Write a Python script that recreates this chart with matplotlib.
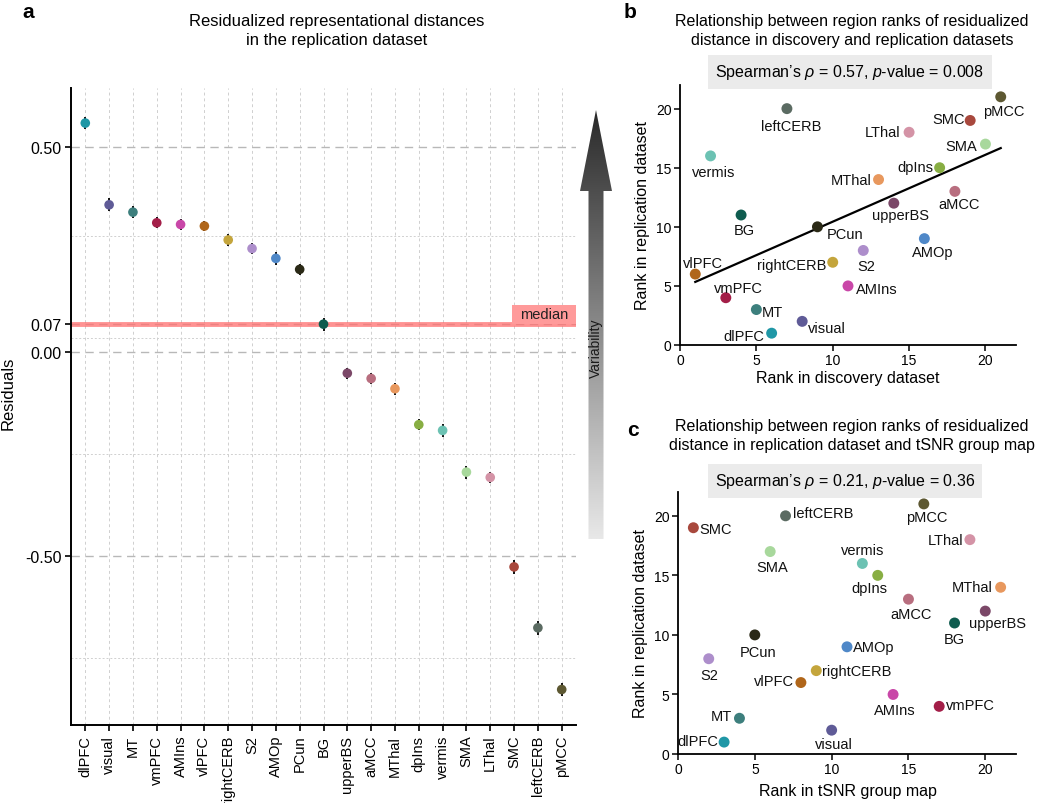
import numpy as np
import matplotlib
matplotlib.use('Agg')
import matplotlib.pyplot as plt
from matplotlib.patches import Polygon, Rectangle
from matplotlib.colors import LinearSegmentedColormap
import matplotlib.transforms as mtransforms

plt.rcParams['font.family'] = ['Liberation Sans', 'DejaVu Sans']
plt.rcParams['mathtext.fontset'] = 'custom'
plt.rcParams['mathtext.rm'] = 'Liberation Sans'
plt.rcParams['mathtext.it'] = 'Liberation Sans:italic'

# ---------------- data ----------------
regions = ['dlPFC', 'visual', 'MT', 'vmPFC', 'AMIns', 'vlPFC', 'rightCERB', 'S2', 'AMOp', 'PCun',
           'BG', 'upperBS', 'aMCC', 'MThal', 'dpIns', 'vermis', 'SMA', 'LThal', 'SMC', 'leftCERB', 'pMCC']
residuals = [0.559, 0.359, 0.341, 0.315, 0.311, 0.307, 0.273, 0.252, 0.228, 0.201,
             0.067, -0.053, -0.066, -0.091, -0.179, -0.193, -0.295, -0.308, -0.527, -0.676, -0.827]
residual_err = [0.015, 0.016, 0.014, 0.013, 0.014, 0.013, 0.015, 0.013, 0.016, 0.014,
                0.016, 0.013, 0.013, 0.015, 0.014, 0.015, 0.016, 0.014, 0.018, 0.017, 0.016]
region_colors = ['#1f97a6', '#5f5b97', '#3d7f7d', '#a31e48', '#c947a8', '#b0661a', '#c4a53c', '#ad8ecb',
                 '#4f88c8', '#2a2916', '#0f5c4f', '#7b4868', '#b86e7f', '#e8985e', '#88ae43', '#6cc2b3',
                 '#a8d89c', '#d493a6', '#a8483d', '#5b6b62', '#5d5832']
rank_replication = [1, 2, 3, 4, 5, 6, 7, 8, 9, 10, 11, 12, 13, 14, 15, 16, 17, 18, 19, 20, 21]
rank_discovery = [6, 8, 5, 3, 11, 1, 10, 12, 16, 9, 4, 14, 18, 13, 17, 2, 20, 15, 19, 7, 21]
rank_tsnr = [3, 10, 4, 17, 14, 8, 9, 2, 11, 5, 18, 20, 15, 21, 13, 12, 6, 19, 1, 7, 16]

# label offsets (pixels, x right / y down) for the scatter panels
offs_b = {'pMCC': (3, 14), 'SMC': (-22, -1), 'LThal': (-27, 0), 'SMA': (-24, 2), 'leftCERB': (4, 17),
          'vermis': (3, 16), 'dpIns': (-24, -1), 'MThal': (-27, 0), 'aMCC': (4, 13), 'upperBS': (7, 12),
          'BG': (3, 15), 'PCun': (28, 7), 'AMOp': (8, 13), 'S2': (3, 16), 'rightCERB': (-41, 3),
          'vlPFC': (8, -11), 'AMIns': (29, 3), 'vmPFC': (13, -10), 'MT': (16, 2), 'visual': (25, 7),
          'dlPFC': (-28, 3)}
offs_c = {'SMC': (22, 1), 'leftCERB': (38, -3), 'pMCC': (3, 13), 'LThal': (-24, 0), 'SMA': (2, 15),
          'vermis': (0, -13), 'dpIns': (-8, 13), 'MThal': (-28, 0), 'aMCC': (3, 15), 'upperBS': (12, 12),
          'BG': (0, 16), 'PCun': (3, 17), 'AMOp': (27, 0), 'S2': (1, 16), 'rightCERB': (40, 0),
          'vlPFC': (-27, -2), 'AMIns': (2, 16), 'vmPFC': (31, -1), 'MT': (-18, -2), 'visual': (2, 14),
          'dlPFC': (-26, -1)}

W, H = 1050, 804
fig = plt.figure(figsize=(W / 100, H / 100), dpi=100)


def fx(px):
    return px / W


def fy(py):
    return 1 - py / H


def ax_rect(l, t, r, b):
    return [fx(l), fy(b), (r - l) / W, (b - t) / H]


# ---------------- panel a ----------------
ax = fig.add_axes(ax_rect(71, 89, 576, 726))
xpos = np.arange(len(regions))
med = float(np.median(residuals))

ax.set_xlim(-0.6, len(regions) - 0.4)
lo = min(np.array(residuals) - np.array(residual_err))
hi = max(np.array(residuals) + np.array(residual_err))
rng = hi - lo
ax.set_ylim(lo - 0.05 * rng, hi + 0.05 * rng)

major = sorted([-0.5, 0.0, med, 0.5])
minor = [(a + b) / 2 for a, b in zip(major[:-1], major[1:])] + [major[0] - (major[1] - major[0]) / 2]

for xv in xpos:
    ax.axvline(xv, color='#cfcfcf', lw=0.7, ls=(0, (3, 3)), zorder=0)
for yv in minor:
    ax.axhline(yv, color='#d0d0d0', lw=0.7, ls=(0, (2, 2)), zorder=0)
for yv in major:
    ax.axhline(yv, color='#b8b8b8', lw=1.0, ls=(0, (6, 4)), zorder=0)

ax.axhline(med, color='#ff6f6f', alpha=0.75, lw=3.5, zorder=1)
ax.errorbar(xpos, residuals, yerr=residual_err, fmt='none', ecolor='black', elinewidth=1.3, capsize=0, zorder=3)
ax.scatter(xpos, residuals, s=48, c=region_colors, edgecolors='none', zorder=4)

ax.set_yticks(major)
ax.set_yticklabels(['%.2f' % v for v in major], fontsize=11.5)
ax.set_xticks(xpos)
ax.set_xticklabels(regions, rotation=90, fontsize=10.5)
ax.tick_params(axis='both', direction='out', length=4, width=1.2, color='black', pad=3)
for s in ['top', 'right']:
    ax.spines[s].set_visible(False)
for s in ['left', 'bottom']:
    ax.spines[s].set_linewidth(1.4)

# median label box
trans = mtransforms.blended_transform_factory(ax.transAxes, ax.transData)
ax.add_patch(Rectangle((0.873, med), 0.127, 0.048, transform=trans, facecolor='#ff9a9a',
                       edgecolor='none', zorder=2, clip_on=False))
ax.text(0.9365, med + 0.025, 'median', transform=trans, ha='center', va='center', fontsize=10.5,
        color='#222222', zorder=5)

fig.text(fx(8), fy(393), 'Residuals', rotation=90, ha='center', va='center', fontsize=12)
fig.text(fx(337), fy(31), 'Residualized representational distances\nin the replication dataset',
         ha='center', va='center', fontsize=12, linespacing=1.3)
fig.text(fx(28), fy(12), 'a', ha='center', va='center', fontsize=15, fontweight='bold')

# gradient arrow
axa = fig.add_axes(ax_rect(580, 111, 612, 540))
axa.set_xlim(0, 1)
axa.set_ylim(0, 1)
axa.axis('off')
hb = (540 - 192) / (540 - 111)
bw = 7.5 / 32
poly = Polygon([(0.5 - bw, 0), (0.5 + bw, 0), (0.5 + bw, hb), (1.0, hb), (0.5, 1.0), (0.0, hb), (0.5 - bw, hb)],
               closed=True, facecolor='none', edgecolor='none', transform=axa.transData)
axa.add_patch(poly)
cmap = LinearSegmentedColormap.from_list('g', ['#e8e8e8', '#2a2a2a'])
im = axa.imshow(np.linspace(0, 1, 256).reshape(-1, 1), cmap=cmap, origin='lower', extent=(0, 1, 0, 1),
                aspect='auto')
im.set_clip_path(poly)
fig.text(fx(596), fy(348), 'Variability', rotation=90, ha='center', va='center', fontsize=10,
         color='#1a1a1a')


# ---------------- scatter panels ----------------
def scatter_panel(rect, xr, offs, title, title_y, letter_xy, stat, stat_xy, xlabel, xlabel_y, ylabel_xy, fit):
    a = fig.add_axes(rect)
    a.set_xlim(0, 22)
    a.set_ylim(0, 22)
    if fit:
        k, b0 = np.polyfit(xr, rank_replication, 1)
        xx = np.array([min(xr), max(xr)])
        a.plot(xx, k * xx + b0, color='black', lw=1.6, zorder=2)
    a.scatter(xr, rank_replication, s=62, c=region_colors, edgecolors='none', zorder=3)
    for name, xv, yv in zip(regions, xr, rank_replication):
        dx, dy = offs[name]
        a.annotate(name, (xv, yv), xytext=(dx * 0.72, -dy * 0.72), textcoords='offset points',
                   ha='center', va='center', fontsize=10.5, color='#111111', zorder=4)
    a.set_xticks([0, 5, 10, 15, 20])
    a.set_yticks([0, 5, 10, 15, 20])
    a.tick_params(axis='both', direction='out', length=4, width=1.1, labelsize=10, pad=2)
    for s in ['top', 'right']:
        a.spines[s].set_visible(False)
    for s in ['left', 'bottom']:
        a.spines[s].set_linewidth(1.3)
    fig.text(fx(852), fy(title_y), title, ha='center', va='center', fontsize=11.5, linespacing=1.3)
    fig.text(fx(letter_xy[0]), fy(letter_xy[1]), letter_xy[2], ha='center', va='center', fontsize=15,
             fontweight='bold')
    fig.text(fx(stat_xy[0]), fy(stat_xy[1]), stat, ha='center', va='center', fontsize=11.5,
             bbox=dict(boxstyle='square,pad=0.45', facecolor='#ebebeb', edgecolor='none'))
    fig.text(fx(848), fy(xlabel_y), xlabel, ha='center', va='center', fontsize=11.5)
    fig.text(fx(ylabel_xy[0]), fy(ylabel_xy[1]), 'Rank in replication dataset', rotation=90,
             ha='center', va='center', fontsize=11.5)
    return a


scatter_panel(ax_rect(680, 86, 1016, 346), rank_discovery, offs_b,
              'Relationship between region ranks of residualized\ndistance in discovery and replication datasets',
              31, (630, 12, 'b'), r'Spearman’s $\rho$ = 0.57, $p$-value = 0.008', (850, 73),
              'Rank in discovery dataset', 379, (643, 216), True)
scatter_panel(ax_rect(678, 493, 1016, 755), rank_tsnr, offs_c,
              'Relationship between region ranks of residualized\ndistance in replication dataset and tSNR group map',
              436, (633, 431, 'c'), r'Spearman’s $\rho$ = 0.21, $p$-value = 0.36', (845, 482),
              'Rank in tSNR group map', 792, (641, 624), False)

fig.savefig('out.png', dpi=100)
